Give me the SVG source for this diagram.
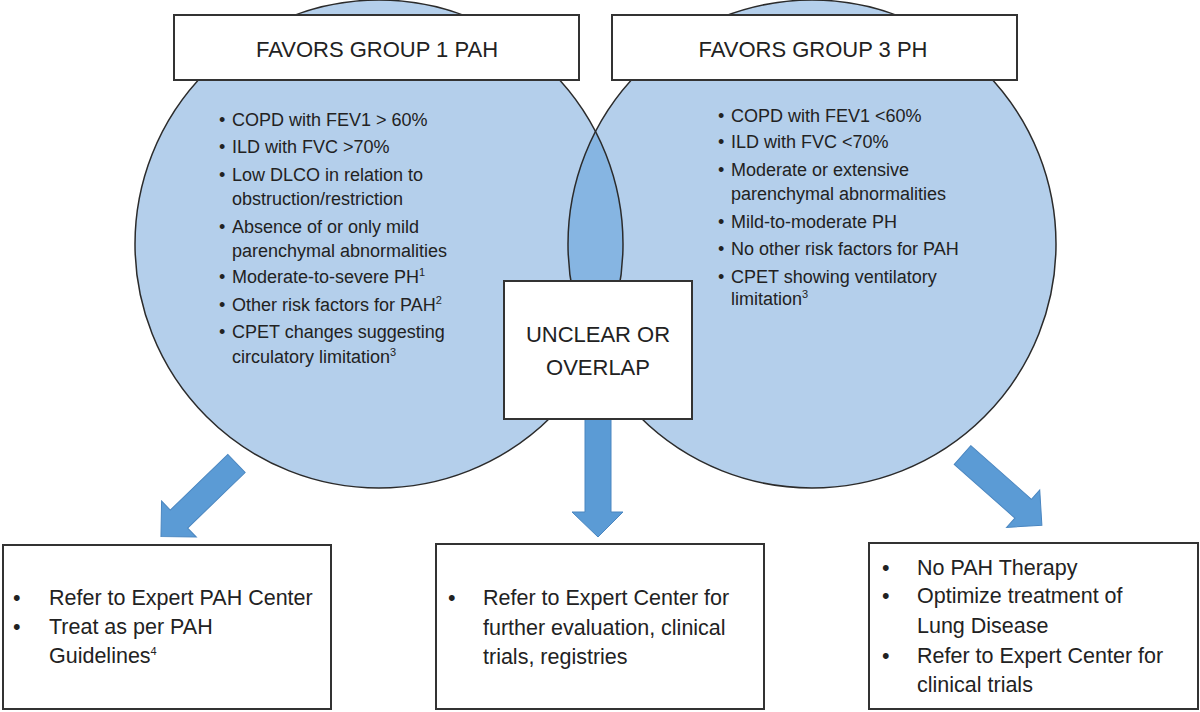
<svg xmlns="http://www.w3.org/2000/svg" width="1200" height="712" viewBox="0 0 1200 712">
  <defs>
    <style>
      .circ { fill: #B4CFEB; stroke: none; }
      .circline { fill: none; stroke: #2b2b2b; stroke-width: 1.5; }
      .lens { fill: #86B5E2; }
      .box { fill: #ffffff; stroke: #333333; stroke-width: 2; }
      .arrow { fill: #5B9BD5; stroke: #4A86C0; stroke-width: 1; }
      .t { font-family: "Liberation Sans", Arial, sans-serif; fill: #222222; }
      .head { font-size: 22px; text-anchor: middle; }
      .item { font-size: 18px; }
      .act { font-size: 21.5px; }
      .sup { font-size: 11px; }
    </style>
    <clipPath id="clipLeft">
      <circle cx="379" cy="244" r="244"/>
    </clipPath>
  </defs>

  <g id="circle-left">
    <circle class="circ" cx="379" cy="244" r="244"/>
  </g>
  <g id="circle-right">
    <circle class="circ" cx="812" cy="244" r="244"/>
  </g>
  <g id="overlap-lens">
    <circle class="lens" cx="812" cy="244" r="244" clip-path="url(#clipLeft)"/>
    <circle class="circline" cx="379" cy="244" r="244"/>
    <circle class="circline" cx="812" cy="244" r="244"/>
  </g>

  <g id="left-criteria" class="t item">
    <text x="219" y="126">•</text><text x="232" y="126">COPD with FEV1 &gt; 60%</text>
    <text x="219" y="153">•</text><text x="232" y="153">ILD with FVC &gt;70%</text>
    <text x="219" y="181">•</text><text x="232" y="181">Low DLCO in relation to</text>
    <text x="232" y="205">obstruction/restriction</text>
    <text x="219" y="233">•</text><text x="232" y="233">Absence of or only mild</text>
    <text x="232" y="257">parenchymal abnormalities</text>
    <text x="219" y="283">•</text><text x="232" y="283">Moderate-to-severe PH<tspan class="sup" dy="-7">1</tspan></text>
    <text x="219" y="311">•</text><text x="232" y="311">Other risk factors for PAH<tspan class="sup" dy="-7">2</tspan></text>
    <text x="219" y="338">•</text><text x="232" y="338">CPET changes suggesting</text>
    <text x="232" y="363">circulatory limitation<tspan class="sup" dy="-7">3</tspan></text>
  </g>

  <g id="right-criteria" class="t item">
    <text x="718" y="122">•</text><text x="731" y="122">COPD with FEV1 &lt;60%</text>
    <text x="718" y="148">•</text><text x="731" y="148">ILD with FVC &lt;70%</text>
    <text x="718" y="176">•</text><text x="731" y="176">Moderate or extensive</text>
    <text x="731" y="200">parenchymal abnormalities</text>
    <text x="718" y="228">•</text><text x="731" y="228">Mild-to-moderate PH</text>
    <text x="718" y="255">•</text><text x="731" y="255">No other risk factors for PAH</text>
    <text x="718" y="283">•</text><text x="731" y="283">CPET showing ventilatory</text>
    <text x="731" y="305">limitation<tspan class="sup" dy="-7">3</tspan></text>
  </g>

  <g id="connectors">
    <path class="arrow" transform="translate(236.5,463.5) rotate(136)" d="M0,-12.5 L80,-12.5 L80,-25 L105,0 L80,25 L80,12.5 L0,12.5 Z"/>
    <path class="arrow" d="M585,419 L611,419 L611,512 L623,512 L598,537 L572,512 L585,512 Z"/>
    <path class="arrow" transform="translate(962.5,455) rotate(41.5)" d="M0,-12.5 L81,-12.5 L81,-25 L106,0 L81,25 L81,12.5 L0,12.5 Z"/>
  </g>

  <g id="box-group1">
    <rect class="box" x="174" y="15" width="405" height="65"/>
    <text class="t head" x="377" y="57">FAVORS GROUP 1 PAH</text>
  </g>
  <g id="box-group3">
    <rect class="box" x="612" y="15" width="405" height="65"/>
    <text class="t head" x="813" y="57">FAVORS GROUP 3 PH</text>
  </g>
  <g id="box-unclear">
    <rect class="box" x="504" y="281" width="188" height="138"/>
    <text class="t head" x="598" y="342">UNCLEAR OR</text>
    <text class="t head" x="598" y="375">OVERLAP</text>
  </g>

  <g id="action-left">
    <rect class="box" x="3" y="545" width="328" height="164"/>
    <g class="t act">
      <text x="13" y="605">•</text><text x="49" y="605">Refer to Expert PAH Center</text>
      <text x="13" y="634">•</text><text x="49" y="634">Treat as per PAH</text>
      <text x="49" y="663">Guidelines<tspan class="sup" dy="-8">4</tspan></text>
    </g>
  </g>
  <g id="action-middle">
    <rect class="box" x="436" y="544" width="328" height="165"/>
    <g class="t act">
      <text x="448" y="605">•</text><text x="483" y="605">Refer to Expert Center for</text>
      <text x="483" y="635">further evaluation, clinical</text>
      <text x="483" y="664">trials, registries</text>
    </g>
  </g>
  <g id="action-right">
    <rect class="box" x="869" y="543" width="329" height="166"/>
    <g class="t act">
      <text x="882" y="575">•</text><text x="917" y="575">No PAH Therapy</text>
      <text x="882" y="603">•</text><text x="917" y="603">Optimize treatment of</text>
      <text x="917" y="633">Lung Disease</text>
      <text x="882" y="663">•</text><text x="917" y="663">Refer to Expert Center for</text>
      <text x="917" y="692">clinical trials</text>
    </g>
  </g>
</svg>
